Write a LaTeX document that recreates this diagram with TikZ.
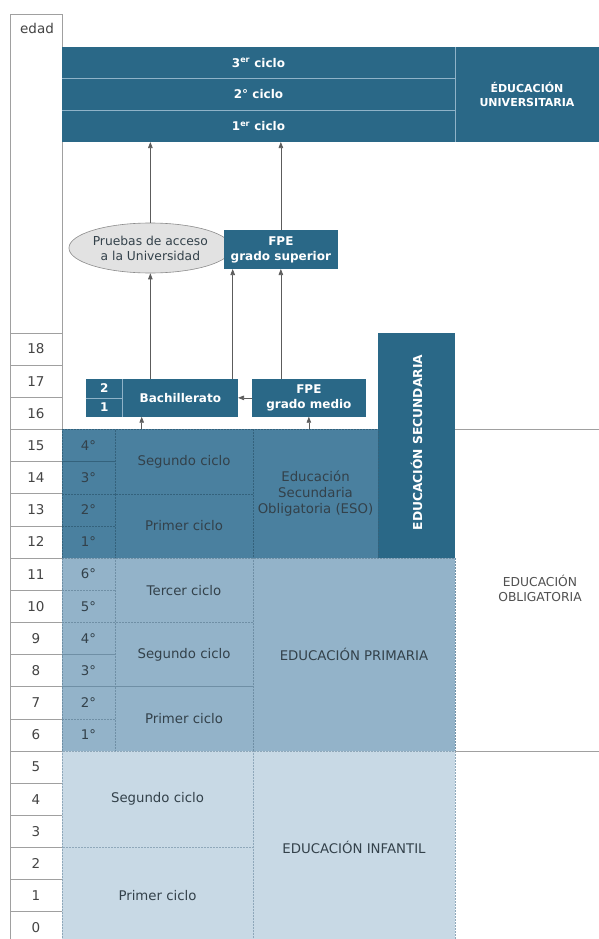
\documentclass[tikz,border=0pt]{standalone}
\usepackage{fontspec}
\setmainfont{DejaVu Sans}
\usetikzlibrary{arrows.meta,shapes.geometric}
\definecolor{dk}{HTML}{2A6887}
\definecolor{esof}{HTML}{4A809F}
\definecolor{prif}{HTML}{93B3C9}
\definecolor{inff}{HTML}{C8D9E5}
\definecolor{esol}{HTML}{34627C}
\definecolor{pril}{HTML}{6F8FA5}
\definecolor{infl}{HTML}{8FA8BA}
\definecolor{txtd}{HTML}{33414A}
\definecolor{gridc}{HTML}{A0A0A0}
\definecolor{arrc}{HTML}{5C5C5C}
\definecolor{sepc}{HTML}{8FB3C8}
\definecolor{agec}{HTML}{444444}
\definecolor{ellf}{HTML}{E2E2E2}
\definecolor{elld}{HTML}{8C8C8C}
\definecolor{oblc}{HTML}{505050}
\newcommand{\fsreg}{\fontsize{13.3}{16}\selectfont}
\newcommand{\fsage}{\fontsize{13.5}{16}\selectfont}
\newcommand{\fsbold}{\fontsize{12}{15}\selectfont\bfseries}
\newcommand{\fsuni}{\fontsize{11}{14}\selectfont\bfseries}
\newcommand{\fsrow}{\fontsize{12}{14}\selectfont\bfseries}
\tikzset{
  base/.style={anchor=north west, inner sep=0pt, outer sep=0pt, align=center},
  agecell/.style={base, draw=gridc, line width=0.6pt, minimum width=52pt, minimum height=32.15pt, text=agec, font=\fsage},
  dkbox/.style={base, fill=dk, text=white, font=\fsbold},
  unirow/.style={base, fill=dk, text=white, font=\fsrow, minimum width=393pt, minimum height=31.67pt},
  esocell/.style={base, fill=esof, draw=esol, densely dotted, line width=0.5pt, text=txtd, font=\fsreg},
  pricell/.style={base, fill=prif, draw=pril, densely dotted, line width=0.5pt, text=txtd, font=\fsreg},
  infcell/.style={base, fill=inff, draw=infl, densely dotted, line width=0.5pt, text=txtd, font=\fsreg},
  sepline/.style={draw=sepc, line width=0.6pt},
  gridline/.style={draw=gridc, line width=0.6pt},
  conn/.style={draw=arrc, line width=0.7pt, -{Triangle[length=6pt,width=4.5pt]}},
}
\begin{document}
\begin{tikzpicture}[x=1pt,y=-1pt]
\useasboundingbox (0,0) rectangle (599,939);
\clip (0,0) rectangle (599,939);
\fill[white] (0,0) rectangle (599,939);

% age column
\node[base, draw=gridc, line width=0.6pt, minimum width=52pt, minimum height=319pt] (edad) at (10,14) {};
\node[text=agec, font=\fsage] (edadt) at (37,28) {edad};
\foreach \a in {0,...,18} {
  \node[agecell] (age\a) at (10,{333+(18-\a)*32.15}) {\a};
}

% university
\node[unirow] (u3) at (62,47) {3\textsuperscript{er} ciclo};
\node[unirow] (u2) at (62,78.67) {2° ciclo};
\node[unirow] (u1) at (62,110.33) {1\textsuperscript{er} ciclo};
\node[base, fill=dk, text=white, font=\fsuni, minimum width=144pt, minimum height=95pt] (uni) at (455,47) {ÉDUCACIÓN\\UNIVERSITARIA};
\draw[sepline] (u3.south west) -- (u3.south east);
\draw[sepline] (u2.south west) -- (u2.south east);
\draw[sepline] (uni.north west) -- (uni.south west);

% middle boxes
\node[ellipse, draw=elld, line width=0.6pt, fill=ellf, minimum width=139pt, minimum height=50pt, inner sep=0pt, text=txtd, font=\fontsize{12.3}{15}\selectfont, align=center] (pru) at (150.35,248) {Pruebas de acceso\\a la Universidad};
\node[dkbox, minimum width=113.7pt, minimum height=39pt] (fpes) at (224,230) {FPE\\grado superior};

\node[dkbox, minimum width=37pt, minimum height=18.85pt] (b2) at (85.7,379) {2};
\node[dkbox, minimum width=37pt, minimum height=18.85pt] (b1) at (85.7,397.85) {1};
\node[dkbox, minimum width=115.3pt, minimum height=37.7pt] (bach) at (122.7,379) {Bachillerato};
\draw[sepline] (b2.north east) -- (b1.south east);
\draw[sepline] (b2.south west) -- (b2.south east);
\node[dkbox, minimum width=113.7pt, minimum height=37.7pt] (fpem) at (252,379) {FPE\\grado medio};

% secondary bar
\node[base, fill=dk, minimum width=77pt, minimum height=225.05pt] (sec) at (378,333) {};
\node[rotate=90, text=white, font=\fontsize{12.3}{14}\selectfont\bfseries] (sect) at ([yshift=3pt]sec.center) {EDUCACIÓN SECUNDARIA};

% ESO
\foreach \a/\c in {15/4,14/3,13/2,12/1} {
  \node[esocell, minimum width=53pt, minimum height=32.15pt] (esoc\c) at (62,{333+(18-\a)*32.15}) {\c°};
}
\node[esocell, minimum width=138pt, minimum height=64.3pt] (esos) at (115,429.45) {Segundo ciclo};
\node[esocell, minimum width=138pt, minimum height=64.3pt] (esop) at (115,493.75) {Primer ciclo};
\node[esocell, minimum width=125pt, minimum height=128.6pt] (eson) at (253,429.45) {Educación\\Secundaria\\Obligatoria (ESO)};

% Primaria
\foreach \a/\c in {11/6,10/5,9/4,8/3,7/2,6/1} {
  \node[pricell, minimum width=53pt, minimum height=32.15pt] (pric\c) at (62,{333+(18-\a)*32.15}) {\c°};
}
\node[pricell, minimum width=138pt, minimum height=64.3pt] (prit) at (115,558.05) {Tercer ciclo};
\node[pricell, minimum width=138pt, minimum height=64.3pt] (pris) at (115,622.35) {Segundo ciclo};
\node[pricell, minimum width=138pt, minimum height=64.3pt] (prip) at (115,686.65) {Primer ciclo};
\node[pricell, minimum width=202pt, minimum height=192.9pt] (prin) at (253,558.05) {EDUCACIÓN PRIMARIA};

% Infantil
\node[infcell, minimum width=191pt, minimum height=96.45pt] (infs) at (62,750.95) {Segundo ciclo};
\node[infcell, minimum width=191pt, minimum height=96.45pt] (infp) at (62,847.4) {Primer ciclo};
\node[infcell, minimum width=202pt, minimum height=192.9pt] (infn) at (253,750.95) {EDUCACIÓN INFANTIL};

% obligatoria
\coordinate (oblT) at (599,429.45);
\coordinate (oblB) at (599,750.95);
\draw[gridline] (sec.east |- oblT) -- (oblT);
\draw[gridline] (prin.south east) -- (oblB);
\node[text=oblc, font=\fontsize{12.3}{15}\selectfont, align=center] (obl) at (540,588) {EDUCACIÓN\\OBLIGATORIA};

% connectors
\draw[conn] (pru.north) -- (pru.north |- u1.south);
\draw[conn] (fpes.north) -- (fpes.north |- u1.south);
\draw[conn] (pru.south |- bach.north) -- (pru.south);
\draw[conn] ([xshift=-5.3pt]bach.north east) -- ([xshift=-5.3pt]bach.north east |- fpes.south);
\draw[conn] (fpes.south |- fpem.north) -- (fpes.south);
\draw[conn] (fpem.west) -- (bach.east);
\draw[conn] ([xshift=19pt]bach.south west |- esos.north) -- ([xshift=19pt]bach.south west);
\draw[conn] (fpem.south |- eson.north) -- (fpem.south);
\end{tikzpicture}
\end{document}
